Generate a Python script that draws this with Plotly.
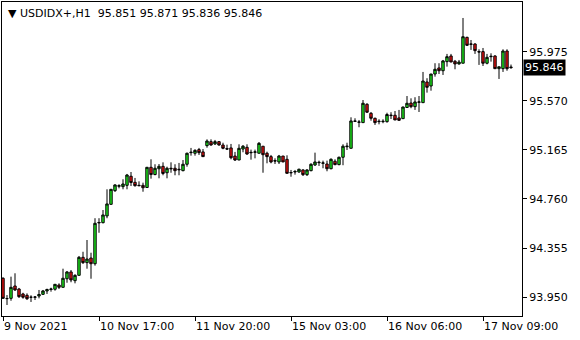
import plotly.graph_objects as go

opens = [94.105, 93.937, 93.939, 94.041, 94.016, 93.975, 93.964, 93.948, 93.948, 93.958,
         93.972, 94.000, 94.012, 94.014, 94.049, 94.030, 94.101, 94.157, 94.085, 94.129,
         94.278, 94.234, 94.272, 94.225, 94.562, 94.564, 94.620, 94.716, 94.829, 94.865,
         94.862, 94.873, 94.948, 94.898, 94.873, 94.873, 94.855, 95.022, 94.962, 95.010,
         95.030, 94.977, 95.014, 95.014, 95.006, 94.994, 95.047, 95.143, 95.138, 95.168,
         95.149, 95.201, 95.234, 95.215, 95.234, 95.206, 95.176, 95.182, 95.115, 95.082,
         95.173, 95.187, 95.146, 95.146, 95.138, 95.196, 95.138, 95.110, 95.077, 95.066,
         95.115, 95.088, 94.979, 94.983, 94.983, 95.000, 94.961, 94.994, 95.041, 95.060,
         95.055, 95.049, 95.010, 95.072, 95.044, 95.105, 95.192, 95.179, 95.405, 95.394,
         95.391, 95.543, 95.468, 95.427, 95.399, 95.399, 95.399, 95.449, 95.452, 95.430,
         95.424, 95.516, 95.553, 95.523, 95.559, 95.556, 95.727, 95.694, 95.793, 95.843,
         95.820, 95.895, 95.942, 95.898, 95.876, 95.882, 96.096, 96.041, 96.041, 95.978,
         95.978, 95.882, 95.936, 95.942, 95.837, 95.837, 95.983, 95.851]
highs = [94.113, 93.966, 94.118, 94.146, 94.025, 93.985, 93.980, 93.964, 93.958, 94.008,
         94.008, 94.019, 94.027, 94.055, 94.063, 94.184, 94.165, 94.173, 94.138, 94.289,
         94.324, 94.421, 94.316, 94.601, 94.601, 94.669, 94.840, 94.840, 94.882, 94.882,
         94.923, 94.967, 94.983, 94.934, 94.906, 94.895, 95.024, 95.088, 95.047, 95.049,
         95.063, 95.027, 95.063, 95.047, 95.058, 95.082, 95.143, 95.182, 95.171, 95.182,
         95.173, 95.253, 95.253, 95.248, 95.239, 95.225, 95.209, 95.215, 95.149, 95.212,
         95.206, 95.212, 95.168, 95.168, 95.231, 95.196, 95.151, 95.124, 95.096, 95.124,
         95.115, 95.121, 95.000, 95.000, 95.010, 95.006, 95.006, 95.055, 95.143, 95.077,
         95.077, 95.077, 95.096, 95.088, 95.110, 95.212, 95.225, 95.435, 95.427, 95.413,
         95.578, 95.551, 95.479, 95.432, 95.419, 95.419, 95.473, 95.477, 95.487, 95.496,
         95.523, 95.611, 95.592, 95.601, 95.611, 95.810, 95.758, 95.793, 95.882, 95.882,
         95.909, 95.959, 95.959, 95.909, 95.909, 96.256, 96.101, 96.074, 96.047, 95.997,
         96.008, 95.959, 95.964, 95.948, 95.853, 95.997, 95.997, 95.871]
lows = [93.934, 93.884, 93.919, 94.000, 93.942, 93.936, 93.925, 93.909, 93.925, 93.939,
        93.967, 93.975, 93.994, 94.002, 94.016, 94.030, 94.068, 94.072, 94.063, 94.129,
        94.223, 94.184, 94.101, 94.209, 94.481, 94.559, 94.601, 94.713, 94.818, 94.848,
        94.840, 94.840, 94.867, 94.862, 94.867, 94.820, 94.853, 94.928, 94.956, 94.931,
        94.956, 94.931, 94.977, 94.956, 94.956, 94.989, 95.027, 95.118, 95.118, 95.124,
        95.107, 95.184, 95.201, 95.206, 95.201, 95.171, 95.165, 95.088, 95.074, 95.082,
        95.146, 95.124, 95.085, 95.096, 95.138, 94.977, 95.055, 95.055, 95.049, 95.049,
        95.066, 94.972, 94.944, 94.961, 94.977, 94.950, 94.950, 94.989, 95.033, 95.033,
        95.014, 94.989, 95.006, 95.039, 95.039, 95.039, 95.165, 95.179, 95.396, 95.353,
        95.391, 95.471, 95.407, 95.372, 95.377, 95.386, 95.391, 95.421, 95.413, 95.407,
        95.424, 95.515, 95.510, 95.496, 95.479, 95.556, 95.639, 95.655, 95.771, 95.793,
        95.785, 95.854, 95.892, 95.832, 95.870, 95.882, 96.025, 95.992, 95.959, 95.868,
        95.859, 95.873, 95.895, 95.837, 95.752, 95.810, 95.820, 95.836]
closes = [93.939, 93.937, 94.030, 94.008, 93.953, 93.948, 93.936, 93.948, 93.950, 93.971,
          94.000, 94.012, 94.016, 94.055, 94.030, 94.105, 94.157, 94.091, 94.129, 94.278,
          94.234, 94.264, 94.225, 94.559, 94.566, 94.628, 94.719, 94.840, 94.876, 94.870,
          94.884, 94.958, 94.896, 94.870, 94.870, 94.853, 95.022, 94.962, 95.014, 95.030,
          94.971, 95.014, 95.010, 94.994, 95.002, 95.047, 95.138, 95.146, 95.162, 95.143,
          95.110, 95.239, 95.206, 95.234, 95.206, 95.179, 95.173, 95.101, 95.082, 95.179,
          95.196, 95.132, 95.143, 95.149, 95.220, 95.126, 95.110, 95.066, 95.074, 95.115,
          95.066, 94.972, 94.977, 94.987, 95.006, 94.961, 95.000, 95.047, 95.066, 95.063,
          95.058, 95.010, 95.088, 95.044, 95.105, 95.196, 95.196, 95.405, 95.402, 95.396,
          95.551, 95.477, 95.427, 95.391, 95.402, 95.402, 95.458, 95.452, 95.413, 95.410,
          95.520, 95.551, 95.523, 95.562, 95.562, 95.735, 95.683, 95.793, 95.832, 95.820,
          95.901, 95.936, 95.892, 95.876, 95.892, 96.101, 96.030, 96.039, 95.986, 95.975,
          95.882, 95.931, 95.939, 95.837, 95.853, 95.983, 95.837, 95.846]

bar_index = list(range(len(opens)))
tick_bars = [0, 24, 48, 72, 96, 120]
tick_labels = ["9 Nov 2021", "10 Nov 17:00", "11 Nov 20:00", "15 Nov 03:00",
               "16 Nov 06:00", "17 Nov 09:00"]
price_ticks = [93.950, 94.355, 94.760, 95.165, 95.570, 95.975]
symbol = "USDIDX+,H1"
last_price = closes[-1]

FONT = "DejaVu Sans"

fig = go.Figure(go.Candlestick(
    x=bar_index, open=opens, high=highs, low=lows, close=closes,
    increasing=dict(line=dict(color="black", width=1), fillcolor="#1ef01e"),
    decreasing=dict(line=dict(color="black", width=1), fillcolor="#e81010"),
    whiskerwidth=0, hoverinfo="skip",
))

fig.update_layout(
    width=580, height=340,
    margin=dict(l=2, r=58, t=2, b=24),
    paper_bgcolor="white", plot_bgcolor="white",
    showlegend=False,
    boxgap=0.15,
    font=dict(family=FONT, size=11, color="black"),
    xaxis=dict(
        range=[-0.25, 129.75], rangeslider=dict(visible=False),
        tickmode="array", tickvals=tick_bars, ticktext=tick_labels,
        ticks="outside", ticklen=4, tickcolor="black",
        ticklabelposition="outside right",
        showgrid=False, zeroline=False,
        showline=True, linecolor="black", linewidth=1, mirror=True,
        tickfont=dict(family=FONT, size=11, color="black"),
    ),
    yaxis=dict(
        side="right", range=[93.793, 96.388],
        tickmode="array", tickvals=price_ticks,
        ticktext=[f"{v:.3f}" for v in price_ticks],
        ticks="outside", ticklen=4, tickcolor="black",
        showgrid=False, zeroline=False,
        showline=True, linecolor="black", linewidth=1, mirror=True,
        tickfont=dict(family=FONT, size=11, color="black"),
    ),
)

header = "▼ " + symbol + "  " + " ".join(f"{v:.3f}" for v in (opens[-1], highs[-1], lows[-1], closes[-1]))
fig.add_annotation(
    text=header, xref="paper", yref="paper", x=0.008, y=0.962,
    xanchor="left", yanchor="middle", showarrow=False,
    font=dict(family=FONT, size=11, color="black"),
)
fig.add_annotation(
    text=f"{last_price:.3f}", xref="paper", yref="y", x=1, y=last_price,
    xanchor="left", yanchor="middle", xshift=1, showarrow=False,
    bgcolor="black", borderpad=1,
    font=dict(family=FONT, size=11, color="white"),
)

fig.write_html("out.html")
